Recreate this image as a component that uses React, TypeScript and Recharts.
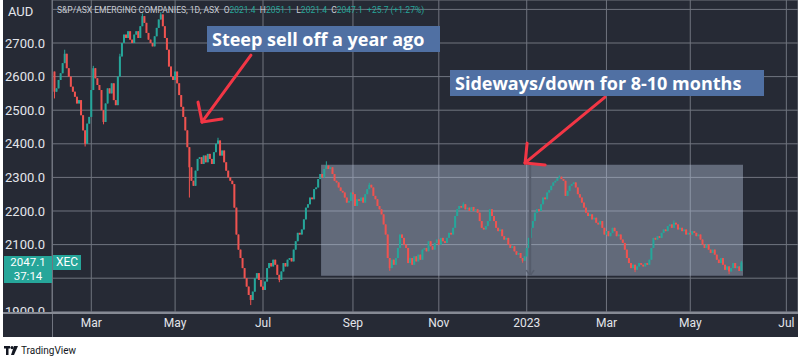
import React from 'react';
import { ComposedChart, Bar, XAxis, YAxis, CartesianGrid, ReferenceArea, ReferenceLine } from 'recharts';

// Daily closes, S&P/ASX Emerging Companies (XEC), Feb 2022 -> Jun 2023
const CLOSES: number[] = [
  2555, 2565, 2590, 2610, 2640, 2668, 2625, 2600, 2570, 2555,
  2540, 2520, 2530, 2485, 2440, 2400, 2460, 2480, 2560, 2625,
  2595, 2575, 2560, 2500, 2465, 2520, 2565, 2550, 2580, 2530,
  2515, 2600, 2660, 2700, 2725, 2715, 2735, 2710, 2700, 2725,
  2735, 2715, 2750, 2780, 2760, 2730, 2710, 2700, 2690, 2720,
  2745, 2770, 2785, 2750, 2715, 2680, 2630, 2600, 2590, 2615,
  2580, 2545, 2510, 2480, 2440, 2390, 2330, 2290, 2275, 2320,
  2355, 2360, 2340, 2365, 2345, 2370, 2355, 2340, 2375, 2400,
  2410, 2365, 2380, 2345, 2320, 2300, 2290, 2280, 2210, 2130,
  2085, 2060, 2030, 2000, 1975, 1950, 1935, 1960, 2000, 2015,
  1995, 1975, 1965, 1990, 2030, 2045, 2035, 2055, 2040, 2010,
  1995, 2020, 2045, 2035, 2055, 2060, 2050, 2085, 2110, 2135,
  2130, 2145, 2175, 2210, 2220, 2240, 2235, 2265, 2270, 2295,
  2310, 2300, 2325, 2335, 2325, 2330, 2310, 2290, 2285, 2270,
  2260, 2255, 2240, 2225, 2230, 2255, 2250, 2215, 2235, 2230,
  2240, 2225, 2250, 2265, 2278, 2270, 2245, 2235, 2215, 2205,
  2190, 2160, 2130, 2060, 2030, 2055, 2040, 2060, 2090, 2130,
  2120, 2100, 2090, 2045, 2060, 2040, 2065, 2050, 2070, 2055,
  2085, 2090, 2080, 2110, 2095, 2085, 2105, 2115, 2100, 2120,
  2110, 2105, 2120, 2135, 2130, 2150, 2185, 2205, 2215, 2210,
  2220, 2205, 2210, 2200, 2212, 2200, 2205, 2195, 2170, 2150,
  2145, 2155, 2170, 2205, 2185, 2170, 2150, 2140, 2145, 2125,
  2115, 2120, 2100, 2090, 2095, 2080, 2070, 2075, 2060, 2052,
  2065, 2090, 2120, 2150, 2170, 2195, 2205, 2200, 2220, 2240,
  2235, 2255, 2262, 2275, 2285, 2290, 2298, 2302, 2295, 2290,
  2245, 2260, 2275, 2280, 2285, 2270, 2250, 2240, 2225, 2210,
  2195, 2185, 2190, 2175, 2180, 2165, 2160, 2170, 2150, 2130,
  2140, 2125, 2135, 2150, 2140, 2125, 2130, 2115, 2105, 2085,
  2060, 2045, 2030, 2040, 2025, 2035, 2045, 2040, 2035, 2045,
  2040, 2055, 2090, 2120, 2115, 2125, 2120, 2135, 2145, 2140,
  2155, 2160, 2150, 2165, 2160, 2145, 2150, 2140, 2145, 2130,
  2135, 2130, 2140, 2135, 2125, 2130, 2115, 2100, 2090, 2100,
  2085, 2075, 2085, 2070, 2055, 2045, 2060, 2040, 2025, 2035,
  2020, 2030, 2045, 2030, 2035, 2021.4, 2047.1,
];
const FIRST_OPEN = 2615;

// Wicks that stick out of the candle bodies: [candle index, price]
const WICK_HIGHS: [number, number][] = [
  [5, 2680], [19, 2632], [32, 2668], [43, 2788], [52, 2792], [80, 2418],
  [133, 2348], [154, 2284], [200, 2226], [247, 2306], [303, 2172], [336, 2051.1],
];
const WICK_LOWS: [number, number][] = [
  [0, 2535], [15, 2392], [24, 2458], [66, 2240], [96, 1920], [110, 1988],
  [164, 2022], [229, 2046], [284, 2018], [330, 2012],
];

const MONTH_TICKS = [18, 59, 102, 146, 188, 231, 270, 311, 358];
const MONTH_LABELS = ['Mar', 'May', 'Jul', 'Sep', 'Nov', '2023', 'Mar', 'May', 'Jul'];
const PRICE_TICKS = [1900, 2000, 2100, 2200, 2300, 2400, 2500, 2600, 2700, 2800];
// tick labels hidden behind the legend / last-price tag
const HIDDEN_PRICE_LABELS = [2000, 2800];
const X_DOMAIN: [number, number] = [-1.22, 363.7];
const Y_DOMAIN: [number, number] = [1896.4, 2828];

// Sideways range box: [index from, index to], [price low, price high]
const RANGE_BOX = { i1: 130.4, i2: 336.8, p1: 2007, p2: 2338 };
// Arrows (index, price)
const ARROW1 = { from: [96.1, 2664], to: [72.2, 2465], arm1: [81.9, 2474], arm2: [70.2, 2524] };
const ARROW2 = { from: [269.3, 2539], to: [230.2, 2343], arm1: [240, 2337], arm2: [231.2, 2402] };
const MARKER = { i: 232.7, top: 2338, bottom: 2008 };

const BG = '#262a35';
const GRID = '#70747f';
const UP = '#26a69a';
const DOWN = '#ef5350';
const TEXT = '#e3e5eb';
const ARROW = '#f23645';

const highMap = new Map(WICK_HIGHS);
const lowMap = new Map(WICK_LOWS);
const data = CLOSES.map((close, i) => {
  const open = i === 0 ? FIRST_OPEN : CLOSES[i - 1];
  const high = highMap.get(i) ?? Math.max(open, close);
  const low = lowMap.get(i) ?? Math.min(open, close);
  return { i, open, close, high, low, range: [low, high] };
});

function Candle(props: any) {
  const { x, y, width, height, payload } = props;
  if (!payload || x == null || y == null) return null;
  const { open, close, high, low } = payload;
  const color = close >= open ? UP : DOWN;
  const top = Math.min(y, y + height);
  const h = Math.abs(height);
  const span = high - low;
  const k = span > 0 ? h / span : 0;
  const bodyTop = top + (high - Math.max(open, close)) * k;
  const bodyH = Math.max(1.5, Math.abs(close - open) * k);
  const cx = x + width / 2;
  return (
    <g>
      <line x1={cx} x2={cx} y1={top} y2={top + h} stroke={color} strokeWidth={1} />
      <rect x={cx - 1} y={bodyTop} width={2} height={bodyH} fill={color} />
    </g>
  );
}

const seg = (a: number[], b: number[]) => [{ x: a[0], y: a[1] }, { x: b[0], y: b[1] }];

const boxStyle: React.CSSProperties = {
  position: 'absolute',
  background: '#5070a3',
  color: '#ffffff',
  fontFamily: '"Open Sans", sans-serif',
  fontWeight: 700,
  fontSize: 18,
  lineHeight: '26px',
  height: 26,
  paddingLeft: 5,
  boxSizing: 'border-box',
  whiteSpace: 'nowrap',
};

const priceText: React.CSSProperties = {
  position: 'absolute',
  left: 0,
  width: 48,
  height: 13,
  color: '#ffffff',
  fontFamily: 'Roboto',
  fontSize: 11.5,
  lineHeight: '13px',
  textAlign: 'center',
};

export default function App() {
  return (
    <div style={{ position: 'absolute', left: 0, top: 0, width: 800, height: 363, background: '#ffffff', overflow: 'hidden' }}>
      <div style={{ position: 'absolute', left: 3, top: 0, width: 795, height: 337, background: BG }}>
        <ComposedChart width={795} height={337} data={data} margin={{ top: 0, right: 0, bottom: 0, left: 0 }}>
          <CartesianGrid stroke={GRID} strokeWidth={1} />
          <XAxis
            dataKey="i"
            type="number"
            domain={X_DOMAIN}
            allowDataOverflow
            ticks={MONTH_TICKS}
            interval={0}
            tickFormatter={(v: number) => MONTH_LABELS[MONTH_TICKS.indexOf(v)] ?? ''}
            axisLine={false}
            tickLine={false}
            tickSize={0}
            tickMargin={5}
            height={24}
            tick={{ fill: TEXT, fontSize: 12, fontFamily: 'Roboto' }}
          />
          <YAxis
            type="number"
            domain={Y_DOMAIN}
            allowDataOverflow
            ticks={PRICE_TICKS}
            interval={0}
            tickFormatter={(v: number) => (HIDDEN_PRICE_LABELS.includes(v) ? '' : v.toFixed(1))}
            axisLine={false}
            tickLine={false}
            tickSize={0}
            tickMargin={7}
            width={49}
            tick={{ fill: TEXT, fontSize: 13, fontFamily: 'Roboto' }}
          />
          <Bar dataKey="range" shape={<Candle />} barSize={2} isAnimationActive={false} />
          <ReferenceArea
            x1={RANGE_BOX.i1}
            x2={RANGE_BOX.i2}
            y1={RANGE_BOX.p1}
            y2={RANGE_BOX.p2}
            fill="#b4c3dc"
            fillOpacity={0.42}
            stroke="none"
            ifOverflow="visible"
          />
          <ReferenceLine segment={seg([MARKER.i, MARKER.top], [MARKER.i, MARKER.bottom])} stroke="#555c6b" strokeWidth={2} />
          <ReferenceLine segment={seg([MARKER.i - 1.9, MARKER.bottom + 16], [MARKER.i, MARKER.bottom])} stroke="#555c6b" strokeWidth={1.5} />
          <ReferenceLine segment={seg([MARKER.i + 1.9, MARKER.bottom + 16], [MARKER.i, MARKER.bottom])} stroke="#555c6b" strokeWidth={1.5} />
          <ReferenceLine segment={seg(ARROW1.from, ARROW1.to)} stroke={ARROW} strokeWidth={3} strokeLinecap="round" />
          <ReferenceLine segment={seg(ARROW1.arm1, ARROW1.to)} stroke={ARROW} strokeWidth={3} strokeLinecap="round" />
          <ReferenceLine segment={seg(ARROW1.arm2, ARROW1.to)} stroke={ARROW} strokeWidth={3} strokeLinecap="round" />
          <ReferenceLine segment={seg(ARROW2.from, ARROW2.to)} stroke={ARROW} strokeWidth={3} strokeLinecap="round" />
          <ReferenceLine segment={seg(ARROW2.arm1, ARROW2.to)} stroke={ARROW} strokeWidth={3} strokeLinecap="round" />
          <ReferenceLine segment={seg(ARROW2.arm2, ARROW2.to)} stroke={ARROW} strokeWidth={3} strokeLinecap="round" />
        </ComposedChart>

        {/* axis separators */}
        <div style={{ position: 'absolute', left: 0, top: 314, width: 49, height: 23, background: BG }} />
        <div style={{ position: 'absolute', left: 48.5, top: 0, width: 1, height: 337, background: '#70747f' }} />
        <div style={{ position: 'absolute', left: 0, top: 312, width: 795, height: 2, background: '#868a94' }} />

        {/* legend */}
        <div style={{ position: 'absolute', left: 5, top: 4, fontFamily: 'Roboto', fontSize: 13, color: TEXT }}>AUD</div>
        <div style={{ position: 'absolute', left: 54, top: 5, fontFamily: 'Roboto', fontSize: 8.5, color: '#c9ccd4', whiteSpace: 'nowrap' }}>
          S&amp;P/ASX EMERGING COMPANIES, 1D, ASX&nbsp;&nbsp;O<span style={{ color: UP }}>2021.4</span>&nbsp;&nbsp;H
          <span style={{ color: UP }}>2051.1</span>&nbsp;&nbsp;L<span style={{ color: UP }}>2021.4</span>&nbsp;&nbsp;C
          <span style={{ color: UP }}>2047.1</span>&nbsp;&nbsp;<span style={{ color: UP }}>+25.7 (+1.27%)</span>
        </div>

        {/* last price label */}
        <div style={{ position: 'absolute', left: 1, top: 256, width: 48, height: 27, background: UP }}>
          <div style={{ ...priceText, top: 0 }}>2047.1</div>
          <div style={{ ...priceText, top: 14 }}>37:14</div>
        </div>
        <div style={{ position: 'absolute', left: 50, top: 255, width: 28, height: 15, background: UP, color: '#ffffff', fontFamily: 'Roboto', fontSize: 12, lineHeight: '15px', textAlign: 'center' }}>XEC</div>

        {/* annotations */}
        <div style={{ ...boxStyle, left: 204, top: 26, width: 233 }}>Steep sell off a year ago</div>
        <div style={{ ...boxStyle, left: 447, top: 70, width: 314 }}>Sideways/down for 8-10 months</div>
      </div>

      {/* footer */}
      <div style={{ position: 'absolute', left: 4, top: 345, display: 'flex', alignItems: 'center', gap: 3 }}>
        <svg width={14} height={9} viewBox="0 0 14 9">
          <rect x={0} y={0} width={6} height={2.5} fill="#131722" />
          <rect x={2} y={0} width={2.5} height={9} fill="#131722" />
          <circle cx={8} cy={1.6} r={1.6} fill="#131722" />
          <polygon points="10,0 14,0 10,9 7,9" fill="#131722" />
        </svg>
        <span style={{ fontFamily: 'Roboto', fontSize: 10, color: '#131722' }}>TradingView</span>
      </div>
    </div>
  );
}
